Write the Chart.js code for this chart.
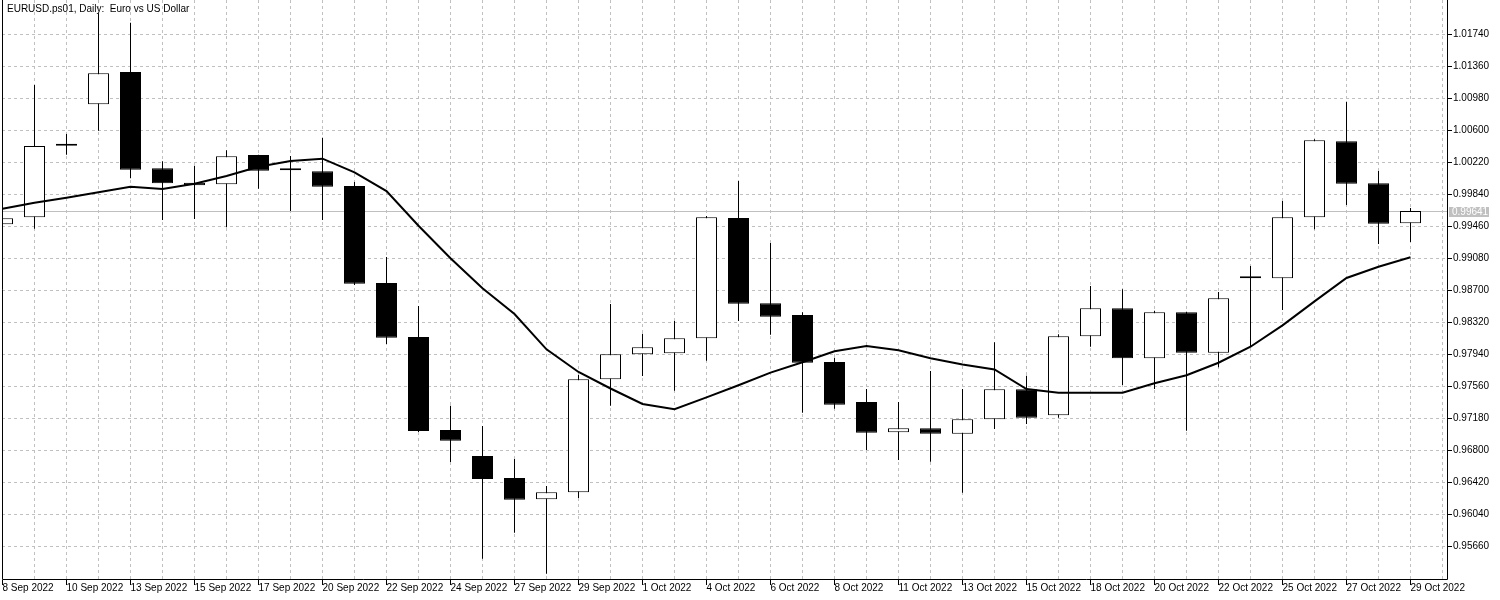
<!DOCTYPE html>
<html>
<head>
<meta charset="utf-8">
<title>EURUSD Daily</title>
<script src="https://cdn.jsdelivr.net/npm/chart.js@4.4.0/dist/chart.umd.min.js"></script>
<style>
  html, body { margin: 0; padding: 0; background: #ffffff; }
  canvas { display: block; }
</style>
</head>
<body>
<canvas id="candleChart" width="1500" height="600"></canvas>
<script>
// one bar per trading day (Sundays missing, Saturdays kept)
const dates = [
    '8 Sep 2022', '9 Sep 2022', '10 Sep 2022', '12 Sep 2022', '13 Sep 2022', '14 Sep 2022',
    '15 Sep 2022', '16 Sep 2022', '17 Sep 2022', '19 Sep 2022', '20 Sep 2022', '21 Sep 2022',
    '22 Sep 2022', '23 Sep 2022', '24 Sep 2022', '26 Sep 2022', '27 Sep 2022', '28 Sep 2022',
    '29 Sep 2022', '30 Sep 2022', '1 Oct 2022', '3 Oct 2022', '4 Oct 2022', '5 Oct 2022',
    '6 Oct 2022', '7 Oct 2022', '8 Oct 2022', '10 Oct 2022', '11 Oct 2022', '12 Oct 2022',
    '13 Oct 2022', '14 Oct 2022', '15 Oct 2022', '17 Oct 2022', '18 Oct 2022', '19 Oct 2022',
    '20 Oct 2022', '21 Oct 2022', '22 Oct 2022', '24 Oct 2022', '25 Oct 2022', '26 Oct 2022',
    '27 Oct 2022', '28 Oct 2022', '29 Oct 2022'
];

const openPrices = [
    0.99484, 0.99567, 1.00417, 1.00909, 1.01292, 1.00149, 0.99978, 0.99959, 1.00307, 1.00125,
    1.00113, 0.99939, 0.98787, 0.98145, 0.97041, 0.96732, 0.96471, 0.96218, 0.96301, 0.97643,
    0.97940, 0.97952, 0.98130, 0.99559, 0.98546, 0.98407, 0.97849, 0.97374, 0.97014, 0.97061,
    0.96997, 0.97168, 0.97524, 0.97216, 0.98154, 0.98486, 0.97893, 0.98439, 0.97959, 0.98843,
    0.98843, 0.99567, 1.00469, 0.99971, 0.99496
];

const highPrices = [
    0.99580, 1.01138, 1.00556, 1.01989, 1.01878, 1.00232, 1.00180, 1.00363, 1.00310, 1.00295,
    1.00512, 0.99986, 0.99095, 0.98514, 0.97330, 0.97089, 0.96697, 0.96376, 0.97694, 0.98537,
    0.98185, 0.98335, 0.99582, 0.99998, 0.99262, 0.98439, 0.97900, 0.97528, 0.97374, 0.97742,
    0.97528, 0.98083, 0.97686, 0.98178, 0.98751, 0.98712, 0.98458, 0.98445, 0.98680, 0.98989,
    0.99760, 1.00493, 1.00940, 1.00117, 0.99677
];

const lowPrices = [
    0.99460, 0.99432, 1.00310, 1.00595, 1.00030, 0.99535, 0.99547, 0.99448, 0.99907, 0.99642,
    0.99535, 0.98763, 0.98062, 0.97017, 0.96661, 0.95513, 0.95822, 0.95335, 0.96234, 0.97330,
    0.97682, 0.97508, 0.97864, 0.98335, 0.98173, 0.97247, 0.97294, 0.96804, 0.96685, 0.96665,
    0.96297, 0.97053, 0.97112, 0.97187, 0.98030, 0.97575, 0.97528, 0.97033, 0.97786, 0.98039,
    0.98466, 0.99424, 0.99713, 0.99250, 0.99274
];

const closePrices = [
    0.99555, 1.00414, 1.00417, 1.01277, 1.00132, 0.99971, 0.99947, 1.00291, 1.00120, 1.00125,
    0.99930, 0.98778, 0.98137, 0.97029, 0.96914, 0.96459, 0.96213, 0.96301, 0.97643, 0.97940,
    0.98023, 0.98130, 0.99567, 0.98541, 0.98387, 0.97840, 0.97342, 0.97009, 0.97061, 0.96997,
    0.97168, 0.97524, 0.97187, 0.98154, 0.98486, 0.97893, 0.98439, 0.97959, 0.98605, 0.98843,
    0.99567, 1.00481, 0.99966, 0.99491, 0.99641
];

// moving average drawn over the candles
const maValues = [
    0.99669, 0.99740, 0.99800, 0.99864, 0.99930, 0.99903, 0.99966, 1.00057, 1.00168, 1.00235,
    1.00263, 1.00101, 0.99879, 0.99467, 0.99080, 0.98724, 0.98419, 0.97999, 0.97730, 0.97534,
    0.97350, 0.97287, 0.97429, 0.97572, 0.97722, 0.97845, 0.97976, 0.98039, 0.97988, 0.97893,
    0.97819, 0.97760, 0.97528, 0.97484, 0.97484, 0.97484, 0.97596, 0.97691, 0.97840, 0.98030,
    0.98284, 0.98569, 0.98846, 0.98980, 0.99092
];

const priceTicks = [
    0.95660, 0.96040, 0.96420, 0.96800, 0.97180, 0.97560, 0.97940, 0.98320, 0.98700,
    0.99080, 0.99460, 0.99840, 1.00220, 1.00600, 1.00980, 1.01360, 1.01740
];

const lastPrice = 0.99641;
const titleText = 'EURUSD.ps01, Daily:  Euro vs US Dollar';

const FONT_FAMILY = "'Liberation Sans', Arial, sans-serif";
const FONT_SIZE = 10;
const GRID_COLOR = '#c0c0c0';

const bodies = dates.map((d, i) => ({ x: i, y: [openPrices[i], closePrices[i]] }));
const wicks = dates.map((d, i) => ({ x: i, y: [lowPrices[i], highPrices[i]] }));
const maPoints = maValues.map((v, i) => ({ x: i, y: v }));
const bodyColors = dates.map((d, i) => closePrices[i] > openPrices[i] ? '#ffffff' : '#000000');

// frame, bid line, bid label and title
const terminalLook = {
    id: 'terminalLook',
    beforeDatasetsDraw(chart)
    {
        const { ctx, chartArea, scales } = chart;
        const y = Math.round(scales.y.getPixelForValue(lastPrice)) + 0.5;
        ctx.save();
        ctx.strokeStyle = GRID_COLOR;
        ctx.lineWidth = 1;
        ctx.beginPath();
        ctx.moveTo(chartArea.left, y);
        ctx.lineTo(chartArea.right, y);
        ctx.stroke();
        ctx.restore();
    },
    afterDraw(chart)
    {
        const { ctx, chartArea, scales } = chart;
        const left = chartArea.left + 0.5;
        const right = chartArea.right - 0.5;
        const bottom = chartArea.bottom - 0.5;
        ctx.save();
        ctx.strokeStyle = '#000000';
        ctx.lineWidth = 1;
        ctx.beginPath();
        ctx.moveTo(left, chartArea.top);
        ctx.lineTo(left, bottom);
        ctx.lineTo(right, bottom);
        ctx.lineTo(right, chartArea.top);
        ctx.stroke();

        const y = Math.round(scales.y.getPixelForValue(lastPrice));
        ctx.fillStyle = GRID_COLOR;
        ctx.fillRect(chartArea.right + 1, y - 4, 40, 10);
        ctx.font = FONT_SIZE + 'px ' + FONT_FAMILY;
        ctx.textBaseline = 'middle';
        ctx.fillStyle = '#ffffff';
        ctx.fillText(lastPrice.toFixed(5), chartArea.right + 4, y + 1);

        ctx.fillStyle = '#000000';
        ctx.fillText(titleText, 7, 9);
        ctx.restore();
    }
};

const ctx = document.getElementById('candleChart').getContext('2d');

new Chart(ctx, {
    type: 'bar',
    data: {
        datasets: [
            {
                type: 'line',
                label: 'MA',
                data: maPoints,
                borderColor: '#000000',
                borderWidth: 2,
                pointRadius: 0,
                tension: 0,
                fill: false,
                order: 0
            },
            {
                label: 'Body',
                data: bodies,
                backgroundColor: bodyColors,
                borderColor: '#000000',
                borderWidth: 1,
                borderSkipped: false,
                grouped: false,
                maxBarThickness: 21,
                minBarLength: 2,
                order: 1
            },
            {
                label: 'Wick',
                data: wicks,
                backgroundColor: '#000000',
                borderWidth: 0,
                grouped: false,
                maxBarThickness: 1,
                order: 2
            }
        ]
    },
    options: {
        responsive: false,
        animation: false,
        events: [],
        layout: {
            padding: { left: 2, top: 0, right: 0, bottom: 0 }
        },
        plugins: {
            legend: { display: false },
            tooltip: { enabled: false }
        },
        scales: {
            x: {
                type: 'linear',
                min: -0.015625,
                max: 45.171875,
                offset: false,
                afterBuildTicks: scale =>
                {
                    const ticks = [];
                    for (let i = 0; i <= dates.length; i++) ticks.push({ value: i });
                    scale.ticks = ticks;
                },
                afterFit: scale =>
                {
                    scale.height = 20;
                    scale.paddingLeft = 0;
                    scale.paddingRight = 0;
                },
                grid: {
                    offset: false,
                    color: GRID_COLOR,
                    lineWidth: 1,
                    borderDash: [3, 3],
                    drawTicks: true,
                    tickLength: 5,
                    tickWidth: 1,
                    tickBorderDash: [],
                    tickColor: c => (c.index % 2 === 0 && c.index < dates.length) ? '#000000' : 'rgba(0,0,0,0)'
                },
                border: { display: false, dash: [3, 3] },
                ticks: {
                    autoSkip: false,
                    maxRotation: 0,
                    minRotation: 0,
                    align: 'start',
                    padding: -3,
                    color: '#000000',
                    font: { family: FONT_FAMILY, size: FONT_SIZE },
                    callback: value => (value % 2 === 0 && dates[value]) ? dates[value] : ''
                }
            },
            y: {
                type: 'linear',
                position: 'right',
                min: 0.952598,
                max: 1.021473,
                beginAtZero: false,
                afterBuildTicks: scale =>
                {
                    scale.ticks = priceTicks.map(v => ({ value: v }));
                },
                afterFit: scale =>
                {
                    scale.width = 52;
                    scale.paddingTop = 0;
                    scale.paddingBottom = 0;
                },
                grid: {
                    color: GRID_COLOR,
                    lineWidth: 1,
                    borderDash: [3, 3],
                    drawTicks: true,
                    tickLength: 4,
                    tickWidth: 1,
                    tickBorderDash: [],
                    tickColor: '#000000'
                },
                border: { display: false, dash: [3, 3] },
                ticks: {
                    padding: 1,
                    color: '#000000',
                    font: { family: FONT_FAMILY, size: FONT_SIZE },
                    callback: value => value.toFixed(5)
                }
            }
        }
    },
    plugins: [terminalLook]
});
</script>
</body>
</html>
